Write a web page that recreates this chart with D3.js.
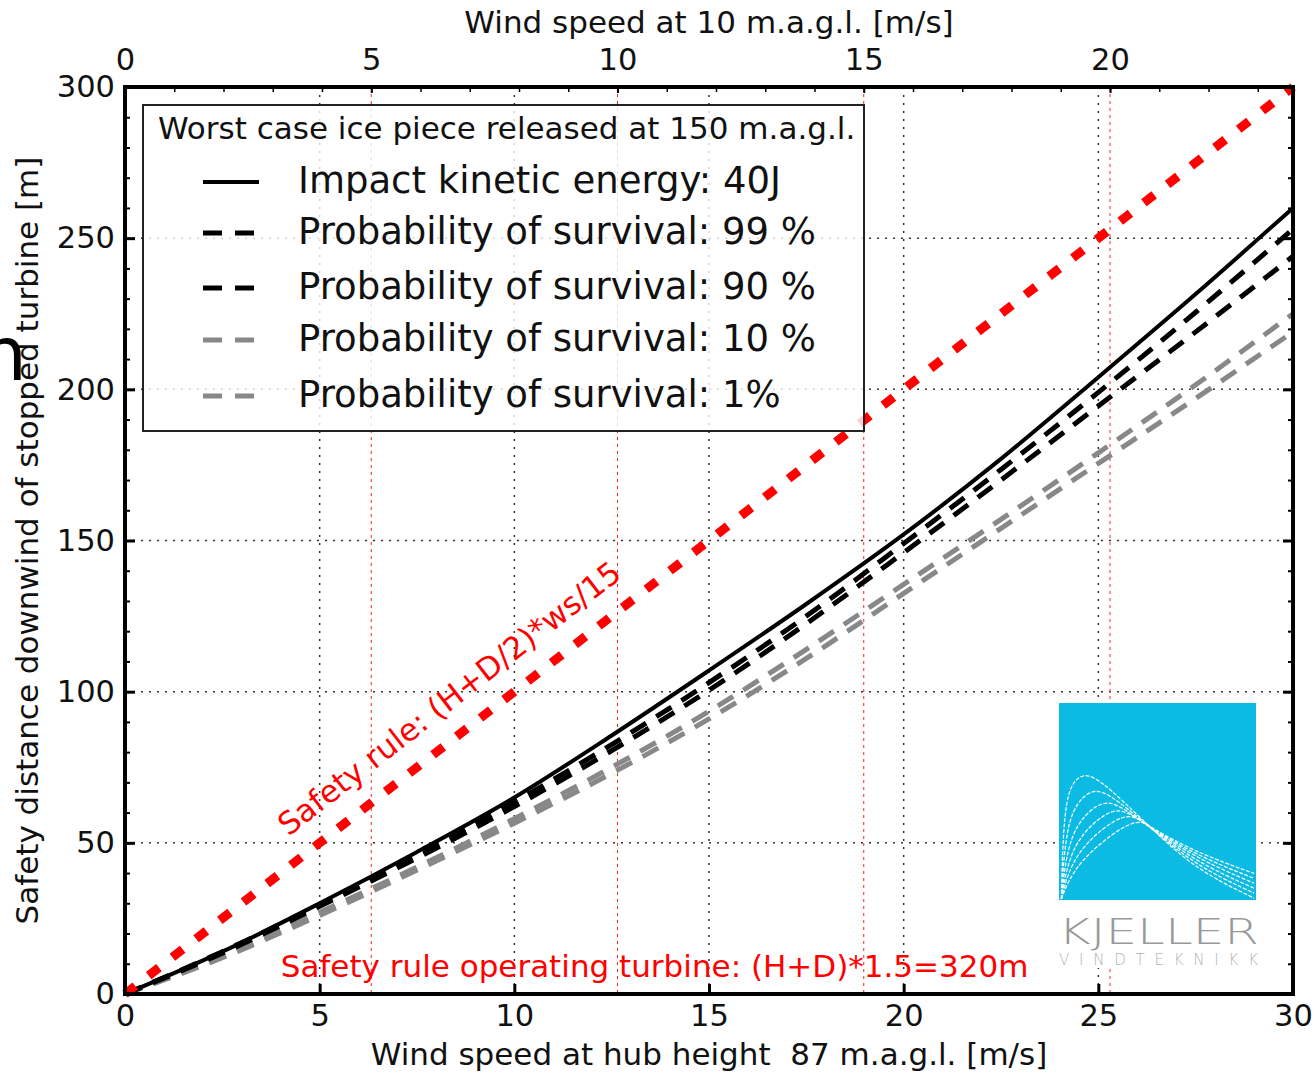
<!DOCTYPE html>
<html lang="en">
<head>
  <meta charset="UTF-8">
  <title>Safety distance downwind of stopped turbine</title>
  <script src="https://d3js.org/d3.v7.min.js"></script>
  <style>
    body { margin: 0; background: #fff; }
    svg { display: block; font-family: "DejaVu Sans", sans-serif; }
    .grid { stroke: #333; stroke-width: 1.5px; stroke-dasharray: 2,6; }
    .redgrid { stroke: #ff2020; stroke-width: 1px; stroke-dasharray: 3,4; }
    .tick text { font-size: 30.5px; fill: #111; font-family: "DejaVu Sans", sans-serif; }
  </style>
</head>
<body>
  <svg></svg>
  <script>
    const width = 1313;
    const height = 1072;

    // hub-height wind speed [m/s] and safety distance [m]
    const windHub = [0, 2.5, 5, 7.5, 10, 12.5, 15, 17.5, 20, 22.5, 25, 27.5, 30];
    const energy40J = [0, 14, 30, 47, 65, 85.5, 107, 129, 152, 177, 204, 231.5, 260];
    const survival99 = [0, 14, 29.5, 46, 63.5, 82.5, 103, 125, 149, 173.5, 199, 225.5, 253];
    const survival90 = [0, 13.5, 29, 45, 62, 80.5, 100.5, 122.5, 146, 170, 194.5, 219, 244];
    const survival10 = [0, 12.5, 27, 42, 58, 75, 93.5, 114, 135.5, 157, 179, 201.5, 225];
    const survival1 = [0, 12, 26, 41, 56.5, 73, 91, 111, 132.5, 154, 175.5, 197, 219];
    const ruleWind = [0, 30];
    const ruleDist = [0, 300];

    const xTicks = [0, 5, 10, 15, 20, 25, 30];
    const yTicks = [0, 50, 100, 150, 200, 250, 300];
    const topTicks = [0, 5, 10, 15, 20];
    const hubPerTen = 1.265; // ratio hub-height speed / 10 m speed

    const legendTitle = "Worst case ice piece released at 150 m.a.g.l.";
    const legendLabels = [
      "Impact kinetic energy: 40J",
      "Probability of survival: 99 %",
      "Probability of survival: 90 %",
      "Probability of survival: 10 %",
      "Probability of survival: 1%"
    ];

    const series = [
      { values: energy40J, color: "#000", width: 4, dash: null },
      { values: survival99, color: "#000", width: 5, dash: "18,12" },
      { values: survival90, color: "#000", width: 5, dash: "18,12" },
      { values: survival10, color: "#888", width: 5, dash: "18,12" },
      { values: survival1, color: "#888", width: 5, dash: "18,12" }
    ];

    const plotLeft = 125, plotRight = 1293, plotTop = 87, plotBottom = 994;

    const svg = d3.select("svg")
        .attr("width", width)
        .attr("height", height);

    const x = d3.scaleLinear().domain([0, 30]).range([plotLeft, plotRight]);
    const xTop = d3.scaleLinear().domain([0, 30 / hubPerTen]).range([plotLeft, plotRight]);
    const y = d3.scaleLinear().domain([0, 300]).range([plotBottom, plotTop]);

    // grid
    svg.append("g").selectAll("line")
        .data(xTicks.slice(1, -1))
        .join("line")
        .attr("class", "grid")
        .attr("x1", d => x(d)).attr("x2", d => x(d))
        .attr("y1", plotTop).attr("y2", plotBottom);
    svg.append("g").selectAll("line")
        .data(yTicks.slice(1, -1))
        .join("line")
        .attr("class", "grid")
        .attr("x1", plotLeft).attr("x2", plotRight)
        .attr("y1", d => y(d)).attr("y2", d => y(d));
    svg.append("g").selectAll("line")
        .data(topTicks)
        .join("line")
        .attr("class", "redgrid")
        .attr("x1", d => xTop(d)).attr("x2", d => xTop(d))
        .attr("y1", plotTop).attr("y2", plotBottom);

    // logo
    const logo = svg.append("g").attr("transform", "translate(1057,700)");
    logo.append("rect").attr("width", 203).attr("height", 268).attr("fill", "#fff");
    const box = 197;
    const lg = logo.append("g").attr("transform", "translate(2,3)");
    lg.append("rect").attr("width", box).attr("height", box).attr("fill", "#0cbbe4");
    const logoPeaks = [[0.13, 0.37], [0.18, 0.45], [0.23, 0.51], [0.28, 0.55], [0.33, 0.58], [0.38, 0.61]];
    const logoTails = [[0.85, 0.99], [0.83, 0.965], [0.81, 0.94], [0.79, 0.915], [0.775, 0.89], [0.76, 0.865]];
    const logoLine = d3.line()
        .x(d => d[0] * box)
        .y(d => d[1] * box)
        .curve(d3.curveBasis);
    lg.selectAll("path")
        .data(logoPeaks.map((p, i) => [
          [0.012, 0.995],
          [0.012, 0.995],
          [0.025 + 0.012 * i, p[1] + 0.1 + 0.02 * i],
          [p[0] - 0.03, p[1] - 0.01],
          [p[0] + 0.06, p[1] - 0.005],
          [0.46, 0.63],
          [0.7, logoTails[i][0]],
          [0.99, logoTails[i][1]],
          [0.99, logoTails[i][1]]
        ]))
        .join("path")
        .attr("d", logoLine)
        .attr("fill", "none")
        .attr("stroke", "#fff")
        .attr("stroke-width", 1.2)
        .attr("stroke-dasharray", "4,1.5");
    logo.append("text")
        .attr("x", 1).attr("y", 244)
        .attr("textLength", 201).attr("lengthAdjust", "spacingAndGlyphs")
        .style("font-size", "36px").style("font-weight", 300)
        .attr("fill", "#999")
        .text("KJELLER");
    logo.append("text")
        .attr("x", 2).attr("y", 265)
        .attr("textLength", 199).attr("lengthAdjust", "spacing")
        .style("font-size", "15px").style("font-weight", 300)
        .attr("fill", "#b4b4b4")
        .text("VINDTEKNIKK");

    // curves
    const line = d3.line()
        .x(d => x(d[0]))
        .y(d => y(d[1]))
        .curve(d3.curveMonotoneX);

    svg.append("g").selectAll("path")
        .data(series.slice().reverse())
        .join("path")
        .attr("d", s => line(windHub.map((w, i) => [w, s.values[i]])))
        .attr("fill", "none")
        .attr("stroke", s => s.color)
        .attr("stroke-width", s => s.width)
        .attr("stroke-dasharray", s => s.dash);

    svg.append("path")
        .attr("d", line(ruleWind.map((w, i) => [w, ruleDist[i]])))
        .attr("fill", "none")
        .attr("stroke", "#ff0000")
        .attr("stroke-width", 9)
        .attr("stroke-dasharray", "13,17");

    // annotations
    const angle = Math.atan2(y(0) - y(300), x(30) - x(0)) * 180 / Math.PI;
    svg.append("text")
        .attr("transform", `translate(${x(4.2)},${y(52)}) rotate(${-angle})`)
        .attr("fill", "#ff0000")
        .style("font-size", "31px")
        .text("Safety rule: (H+D/2)*ws/15");
    svg.append("text")
        .attr("x", x(4)).attr("y", y(5.5))
        .attr("fill", "#ff0000")
        .style("font-size", "31px")
        .text("Safety rule operating turbine: (H+D)*1.5=320m");

    // axes
    const axisStyle = (g, w) => {
      g.select(".domain").remove();
      g.selectAll(".tick line").attr("stroke", "#000").attr("stroke-width", w);
    };
    svg.append("g")
        .attr("transform", `translate(0,${plotBottom})`)
        .call(d3.axisBottom(x).tickValues(xTicks).tickSize(-10).tickPadding(10))
        .call(g => axisStyle(g, 3));
    svg.append("g")
        .attr("transform", `translate(${plotLeft},0)`)
        .call(d3.axisLeft(y).tickValues(yTicks).tickSize(-10).tickPadding(10))
        .call(g => axisStyle(g, 3));
    svg.append("g")
        .attr("transform", `translate(${plotLeft},0)`)
        .call(d3.axisLeft(y).tickValues(d3.range(0, 301, 10)).tickSize(-5).tickFormat(""))
        .call(g => axisStyle(g, 2));
    svg.append("g")
        .attr("transform", `translate(${plotRight},0)`)
        .call(d3.axisRight(y).tickValues(yTicks).tickSize(-10).tickFormat(""))
        .call(g => axisStyle(g, 3));
    svg.append("g")
        .attr("transform", `translate(${plotRight},0)`)
        .call(d3.axisRight(y).tickValues(d3.range(0, 301, 10)).tickSize(-5).tickFormat(""))
        .call(g => axisStyle(g, 2));
    svg.append("g")
        .attr("transform", `translate(0,${plotTop})`)
        .call(d3.axisTop(xTop).tickValues(topTicks).tickSize(-6).tickPadding(17))
        .call(g => axisStyle(g, 2));
    svg.append("g")
        .attr("transform", `translate(0,${plotTop})`)
        .call(d3.axisTop(xTop).tickValues(d3.range(0, 24, 1)).tickSize(-5).tickFormat(""))
        .call(g => axisStyle(g, 1.5));

    svg.append("rect")
        .attr("x", plotLeft).attr("y", plotTop)
        .attr("width", plotRight - plotLeft).attr("height", plotBottom - plotTop)
        .attr("fill", "none")
        .attr("stroke", "#000")
        .attr("stroke-width", 4);

    // axis titles
    svg.append("text")
        .attr("x", (plotLeft + plotRight) / 2).attr("y", 1065)
        .attr("text-anchor", "middle")
        .style("font-size", "31px")
        .style("white-space", "pre")
        .attr("fill", "#111")
        .text("Wind speed at hub height  87 m.a.g.l. [m/s]");
    svg.append("text")
        .attr("x", (plotLeft + plotRight) / 2).attr("y", 33)
        .attr("text-anchor", "middle")
        .style("font-size", "31px")
        .attr("fill", "#111")
        .text("Wind speed at 10 m.a.g.l. [m/s]");
    svg.append("text")
        .attr("transform", `translate(38,${(plotTop + plotBottom) / 2}) rotate(-90)`)
        .attr("text-anchor", "middle")
        .style("font-size", "31px")
        .attr("fill", "#111")
        .text("Safety distance downwind of stopped turbine [m]");

    // legend
    const legend = svg.append("g");
    legend.append("rect")
        .attr("x", 143).attr("y", 105)
        .attr("width", 721).attr("height", 326)
        .attr("fill", "#fff").attr("fill-opacity", 0.8)
        .attr("stroke", "#222").attr("stroke-width", 2);
    legend.append("text")
        .attr("x", 158).attr("y", 139)
        .style("font-size", "31px")
        .attr("fill", "#111")
        .text(legendTitle);
    const baselines = [193, 244, 299, 351, 407];
    const items = legend.selectAll("g.item")
        .data(series)
        .join("g")
        .attr("class", "item")
        .attr("transform", (d, i) => `translate(0,${baselines[i]})`);
    items.append("line")
        .attr("x1", 203).attr("x2", 259)
        .attr("y1", -11).attr("y2", -11)
        .attr("stroke", d => d.color)
        .attr("stroke-width", d => d.width)
        .attr("stroke-dasharray", d => d.dash ? "19,13" : null);
    items.append("text")
        .attr("x", 298)
        .style("font-size", "37px")
        .attr("fill", "#111")
        .text((d, i) => legendLabels[i]);

    // clipped glyph at the left edge
    svg.append("text")
        .attr("x", -20).attr("y", 380)
        .style("font-size", "74px")
        .attr("fill", "#000")
        .text("n");
  </script>
</body>
</html>
